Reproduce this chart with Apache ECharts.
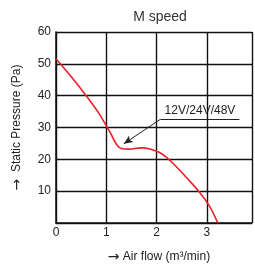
<!DOCTYPE html>
<html>
<head>
<meta charset="utf-8">
<script src="https://cdn.jsdelivr.net/npm/echarts@6/dist/echarts.min.js"></script>
<style>
  html, body { margin: 0; padding: 0; background: #fff; }
  #chart { width: 255px; height: 269px; }
</style>
</head>
<body>
<div id="chart"></div>
<script>
// 曲线数据（风量 m³/min, 静压 Pa）
const airFlow = [0, 0.3, 0.6, 0.85, 1.02, 1.1, 1.2, 1.3, 1.45, 1.7, 1.9, 2.05, 2.2, 2.4, 2.6, 2.86, 3.05, 3.22]
const pressure = [51.6, 46, 40, 34.5, 30, 27.8, 24.8, 23.4, 23.2, 23.6, 23.1, 22.2, 20.6, 17.6, 14.2, 9.6, 5.4, 0]

const xTicks = [0, 1, 2, 3]
const yTicks = [10, 20, 30, 40, 50, 60]

// 标注
const noteText = '12V/24V/48V'
const arrowFrom = [2.08, 32.6]
const arrowTo = [1.35, 24.9]
const underlineEnd = [3.65, 32.6]

const chart = echarts.init(document.getElementById('chart'))

const fontName = 'Liberation Sans, Arial, sans-serif'
const axisFont = { fontFamily: fontName, fontSize: 12, color: '#222' }
const arrowRich = { a: { fontFamily: 'DejaVu Sans', fontSize: 14, color: '#222' } }

const option = {
  animation: false,
  title: {
    text: 'M speed',
    left: 155,
    textAlign: 'center',
    top: 5,
    textStyle: { fontFamily: fontName, fontSize: 14, fontWeight: 'normal', color: '#333' }
  },
  grid: { left: 56, top: 32, right: 0, bottom: 43 },
  xAxis: {
    type: 'value',
    min: 0,
    max: 3.9,
    interval: 1,
    name: '{a|→} Air flow (m³/min)',
    nameLocation: 'middle',
    nameGap: 27,
    nameTextStyle: { fontFamily: fontName, fontSize: 12, color: '#222', padding: [0, 0, 0, 10], rich: arrowRich },
    axisLine: { lineStyle: { color: '#111', width: 1.5 } },
    axisTick: { show: false },
    axisLabel: {
      ...axisFont,
      margin: 4,
      formatter: (v) => (xTicks.includes(v) ? String(v) : '')
    },
    splitLine: { show: true, lineStyle: { color: '#111', width: 1.4 } }
  },
  yAxis: {
    type: 'value',
    min: 0,
    max: 60,
    interval: 10,
    name: '{a|→}  Static Pressure (Pa)',
    nameLocation: 'middle',
    nameRotate: 90,
    nameGap: 32,
    nameTextStyle: { fontFamily: fontName, fontSize: 12, color: '#222', rich: arrowRich },
    axisLine: { show: true, lineStyle: { color: '#111', width: 1.5 } },
    axisTick: { show: false },
    axisLabel: {
      ...axisFont,
      margin: 5,
      formatter: (v) => (yTicks.includes(v) ? String(v) : '')
    },
    splitLine: { show: true, lineStyle: { color: '#111', width: 1.4 } }
  },
  series: [
    {
      type: 'line',
      data: airFlow.map((x, i) => [x, pressure[i]]),
      smooth: 0.4,
      showSymbol: false,
      lineStyle: { color: '#e8202a', width: 1.6 },
      markLine: {
        silent: true,
        symbol: 'none',
        animation: false,
        lineStyle: { color: '#222', width: 1, type: 'solid' },
        data: [
          [
            { coord: arrowFrom, symbol: 'none' },
            { coord: arrowTo, symbol: 'arrow', symbolSize: [6, 9] }
          ],
          [
            {
              coord: arrowFrom,
              label: {
                show: true,
                position: 'insideMiddleTop',
                formatter: noteText,
                distance: 3,
                fontFamily: fontName,
                fontSize: 12,
                color: '#222'
              }
            },
            { coord: underlineEnd }
          ]
        ],
        label: { show: false }
      }
    }
  ]
}

chart.setOption(option)
</script>
</body>
</html>
